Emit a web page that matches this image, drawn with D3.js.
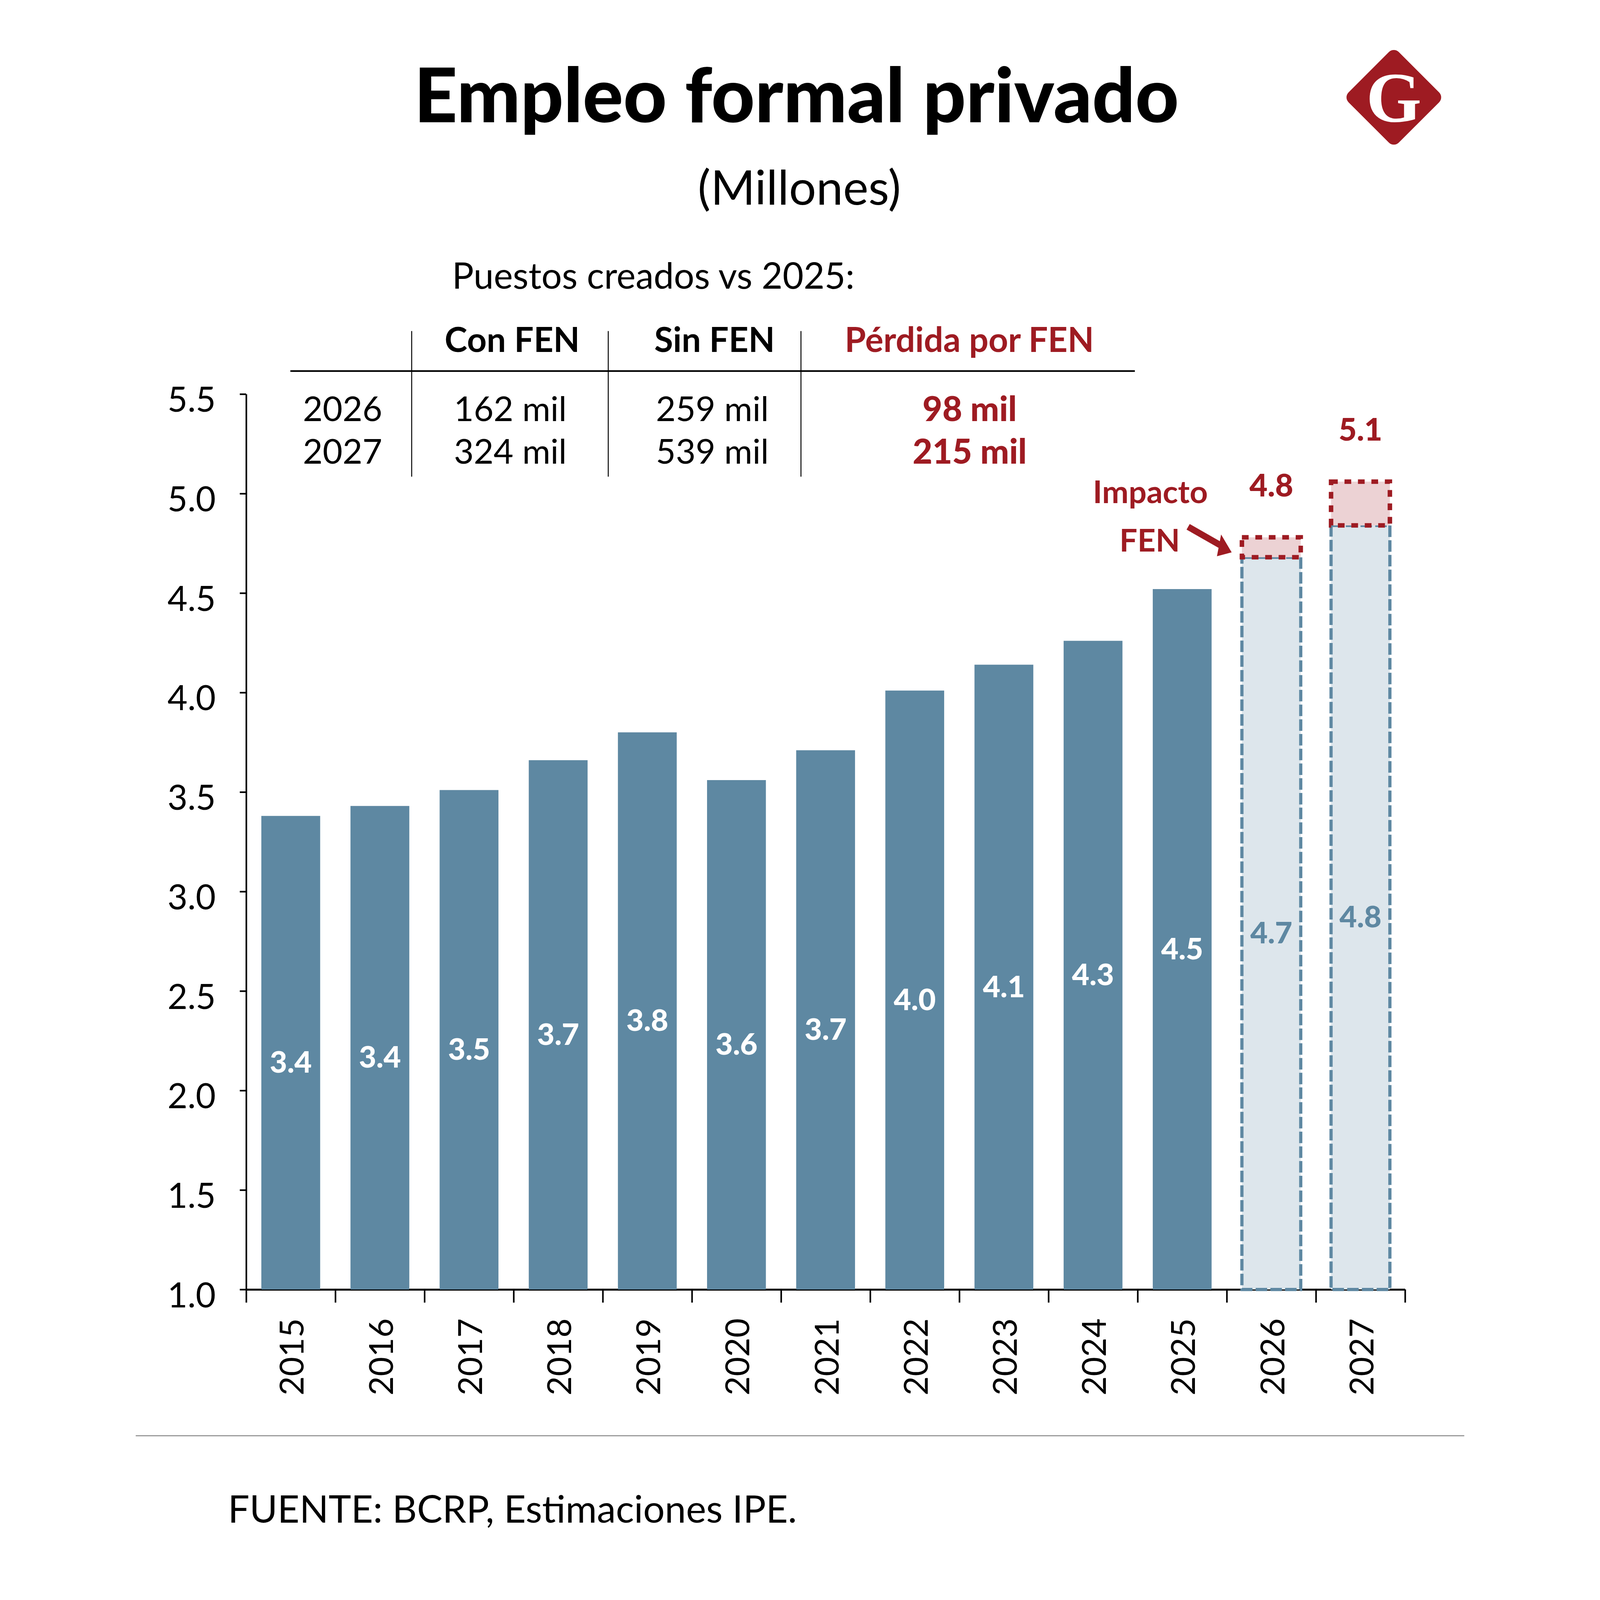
<!DOCTYPE html>
<html>
<head>
<meta charset="utf-8">
<script src="https://cdn.jsdelivr.net/npm/d3@7"></script>
<style>
  html, body { margin: 0; padding: 0; background: #fff; overflow: hidden; }
  #chart svg { display: block; width: 100vw; height: 100vh; }
  svg text { font-family: Lato, "Open Sans", sans-serif; }
</style>
</head>
<body>
<div id="chart"></div>
<script>
// Datos (millones de puestos)
const years = ["2015", "2016", "2017", "2018", "2019", "2020", "2021",
               "2022", "2023", "2024", "2025", "2026", "2027"];
const histYears = ["2015", "2016", "2017", "2018", "2019", "2020", "2021",
                   "2022", "2023", "2024", "2025"];
const empleo = [3.38, 3.43, 3.51, 3.66, 3.80, 3.56, 3.71, 4.01, 4.14, 4.26, 4.52];
const proyYears = ["2026", "2027"];
const conFen = [4.68, 4.84];
const sinFen = [4.78, 5.06];
const yTicks = [1.0, 1.5, 2.0, 2.5, 3.0, 3.5, 4.0, 4.5, 5.0, 5.5];

// Tabla "Puestos creados vs 2025"
const tablaHeaders = ["Con FEN", "Sin FEN", "Pérdida por FEN"];
const tablaYears = ["2026", "2027"];
const conFenMil = ["162 mil", "324 mil"];
const sinFenMil = ["259 mil", "539 mil"];
const perdidaMil = ["98 mil", "215 mil"];

const W = 4150, H = 4998;
const red = "#9e1b22", blue = "#5e88a2";
const fmt = d3.format(".1f");

// viewBox para que todo entre aunque la ventana sea mas chica
const svg = d3.select("#chart")
    .append("svg")
    .attr("viewBox", `0 0 ${W} ${H}`)
    .attr("preserveAspectRatio", "xMidYMid meet");

svg.append("rect")
    .attr("width", W).attr("height", H)
    .attr("fill", "#fff");

// Titulo
svg.append("text")
    .attr("x", 2064).attr("y", 382)
    .attr("text-anchor", "middle")
    .attr("font-size", 236).attr("font-weight", 900)
    .text("Empleo formal privado");

svg.append("text")
    .attr("x", 2073).attr("y", 640)
    .attr("text-anchor", "middle")
    .attr("font-size", 150)
    .text("(Millones)");

// Logo
const logo = svg.append("g").attr("transform", "translate(3930,304)");
logo.append("rect")
    .attr("x", -111).attr("y", -111)
    .attr("width", 222).attr("height", 222)
    .attr("rx", 22)
    .attr("transform", "rotate(45)")
    .attr("fill", red);
logo.append("text")
    .attr("y", 76)
    .attr("text-anchor", "middle")
    .attr("font-size", 222).attr("font-weight", 700)
    .style("font-family", "'Liberation Serif', 'DejaVu Serif', serif")
    .attr("fill", "#fff")
    .text("G");

// Tabla
svg.append("text")
    .attr("x", 988).attr("y", 902)
    .attr("font-size", 113)
    .text("Puestos creados vs 2025:");

const colX = [1176, 1808, 2604];
svg.append("g").selectAll("text")
    .data(tablaHeaders)
    .enter().append("text")
    .attr("x", (d, i) => colX[i]).attr("y", 1100)
    .attr("text-anchor", "middle")
    .attr("font-size", 107).attr("font-weight", 700)
    .attr("fill", (d, i) => i === 2 ? red : "#000")
    .text(d => d);

svg.append("line")
    .attr("x1", 483).attr("x2", 3121)
    .attr("y1", 1159).attr("y2", 1159)
    .attr("stroke", "#000").attr("stroke-width", 5);

svg.append("g").selectAll("line")
    .data([862, 1476, 2078])
    .enter().append("line")
    .attr("x1", d => d).attr("x2", d => d)
    .attr("y1", 1034).attr("y2", 1489)
    .attr("stroke", "#000").attr("stroke-width", 3);

const rowY = [1316, 1448];
const tablaCols = [
    { vals: tablaYears, x: 646, color: "#000", weight: 400 },
    { vals: conFenMil, x: 1170, color: "#000", weight: 400 },
    { vals: sinFenMil, x: 1801, color: "#000", weight: 400 },
    { vals: perdidaMil, x: 2605, color: red, weight: 900 }
];
tablaCols.forEach(col => {
    svg.append("g").selectAll("text")
        .data(col.vals)
        .enter().append("text")
        .attr("x", col.x).attr("y", (d, i) => rowY[i])
        .attr("text-anchor", "middle")
        .attr("font-size", 107).attr("font-weight", col.weight)
        .attr("fill", col.color)
        .text(d => d);
});

// Escalas
const x = d3.scaleBand()
    .domain(years)
    .range([345, 3965])
    .paddingInner(0.34)
    .paddingOuter(0.17);

const y = d3.scaleLinear()
    .domain([1, 5.5])
    .range([4028, 1231]);

const bw = x.bandwidth();

// Eje Y
svg.append("g")
    .attr("transform", "translate(345,0)")
    .call(d3.axisLeft(y).tickValues(yTicks).tickFormat(fmt)
        .tickSize(20).tickSizeOuter(0).tickPadding(75))
    .attr("font-family", "Lato").attr("font-size", 108)
    .call(g => g.select(".domain").attr("stroke-width", 5))
    .call(g => g.selectAll(".tick line").attr("stroke-width", 5))
    .call(g => g.selectAll(".tick text").attr("dy", "0.51em").attr("fill", "#000"));

// Eje X: marcas entre categorias
const xEdge = d3.scaleLinear().domain([0, years.length]).range([345, 3965]);
svg.append("g")
    .attr("transform", "translate(0,4028)")
    .call(d3.axisBottom(xEdge).tickValues(d3.range(0, years.length + 1))
        .tickSize(41).tickSizeOuter(0).tickFormat(""))
    .call(g => g.select(".domain").attr("stroke-width", 6))
    .call(g => g.selectAll(".tick line").attr("stroke-width", 5));

// Eje X: etiquetas de años
svg.append("g")
    .attr("transform", "translate(0,4028)")
    .call(d3.axisBottom(x).tickSize(0))
    .attr("font-family", "Lato").attr("font-size", 104)
    .call(g => g.select(".domain").remove())
    .selectAll("text")
    .attr("y", 0).attr("dy", null)
    .attr("x", -90)
    .attr("transform", "rotate(-90)")
    .attr("text-anchor", "end")
    .attr("dominant-baseline", "central")
    .attr("fill", "#000");

// Barras historicas
const hist = histYears.map((yr, i) => ({ yr, v: empleo[i] }));
svg.append("g").selectAll("rect")
    .data(hist)
    .enter().append("rect")
    .attr("x", d => x(d.yr))
    .attr("y", d => y(d.v))
    .attr("width", bw)
    .attr("height", d => y(1) - y(d.v))
    .attr("fill", blue);

svg.append("g").selectAll("text")
    .data(hist)
    .enter().append("text")
    .attr("x", d => x(d.yr) + bw / 2)
    .attr("y", d => (y(d.v) + y(1)) / 2 + 26)
    .attr("text-anchor", "middle")
    .attr("dominant-baseline", "central")
    .attr("font-size", 94).attr("font-weight", 900)
    .attr("fill", "#fff")
    .text(d => fmt(d.v));

// Proyecciones 2026-2027
const proy = proyYears.map((yr, i) => ({ yr, con: conFen[i], sin: sinFen[i] }));

svg.append("g").selectAll("rect")
    .data(proy)
    .enter().append("rect")
    .attr("x", d => x(d.yr))
    .attr("y", d => y(d.con))
    .attr("width", bw)
    .attr("height", d => y(1) - y(d.con))
    .attr("fill", "#dde6ec")
    .attr("stroke", blue)
    .attr("stroke-width", 10)
    .attr("stroke-dasharray", "36,10");

svg.append("g").selectAll("rect")
    .data(proy)
    .enter().append("rect")
    .attr("x", d => x(d.yr))
    .attr("y", d => y(d.sin))
    .attr("width", bw)
    .attr("height", d => y(d.con) - y(d.sin))
    .attr("fill", "#ecd2d4")
    .attr("stroke", red)
    .attr("stroke-width", 14)
    .attr("stroke-dasharray", "21,21");

svg.append("g").selectAll("text")
    .data(proy)
    .enter().append("text")
    .attr("x", d => x(d.yr) + bw / 2)
    .attr("y", d => (y(d.con) + y(1)) / 2 + 26)
    .attr("text-anchor", "middle")
    .attr("dominant-baseline", "central")
    .attr("font-size", 94).attr("font-weight", 900)
    .attr("fill", blue)
    .text(d => fmt(d.con));

svg.append("g").selectAll("text")
    .data(proy)
    .enter().append("text")
    .attr("x", d => x(d.yr) + bw / 2)
    .attr("y", d => y(d.sin) - 128)
    .attr("text-anchor", "middle")
    .attr("font-size", 98).attr("font-weight", 900)
    .attr("fill", red)
    .text(d => fmt(d.sin));

// Anotacion "Impacto FEN"
const ax = x("2026"), ay = y(sinFen[0]);
svg.append("text")
    .attr("x", ax - 286).attr("y", ay - 107)
    .attr("text-anchor", "middle")
    .attr("font-size", 99).attr("font-weight", 700)
    .attr("fill", red)
    .text("Impacto");
svg.append("text")
    .attr("x", ax - 288).attr("y", ay + 44)
    .attr("text-anchor", "middle")
    .attr("font-size", 99).attr("font-weight", 700)
    .attr("fill", red)
    .text("FEN");

svg.append("line")
    .attr("x1", ax - 168).attr("y1", ay - 33)
    .attr("x2", ax - 68).attr("y2", ay + 24)
    .attr("stroke", red).attr("stroke-width", 20);
svg.append("path")
    .attr("d", `M${ax - 32},${ay + 47} L${ax - 65},${ay - 9} L${ax - 78},${ay + 59} Z`)
    .attr("fill", red);

// Pie
svg.append("line")
    .attr("x1", 0).attr("x2", W)
    .attr("y1", 4485).attr("y2", 4485)
    .attr("stroke", "#888").attr("stroke-width", 3);

svg.append("text")
    .attr("x", 288).attr("y", 4756)
    .attr("font-size", 119)
    .text("FUENTE: BCRP, Estimaciones IPE.");
</script>
</body>
</html>
